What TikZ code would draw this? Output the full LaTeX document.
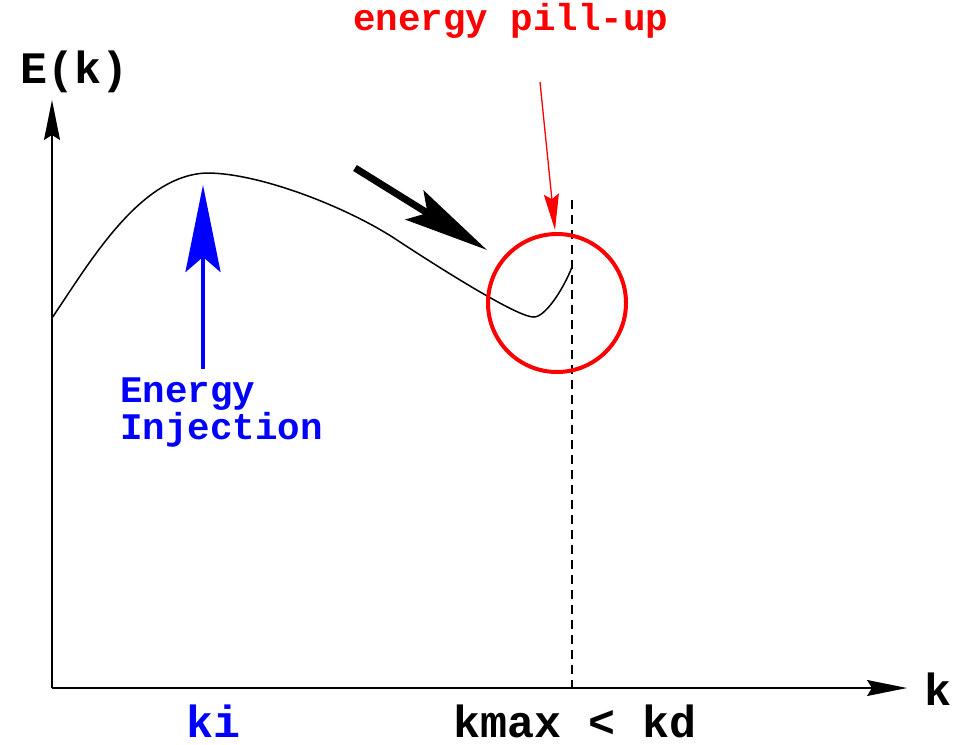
\documentclass[tikz,border=0pt]{standalone}
\usepackage{fontspec}
\setmonofont{Liberation Mono}
\usetikzlibrary{arrows.meta}
\begin{document}
\begin{tikzpicture}[x=1pt,y=-1pt,
  lab/.style={font=\ttfamily\bfseries\fontsize{45}{50}\selectfont, inner sep=0pt},
  ann/.style={font=\ttfamily\bfseries\fontsize{37.5}{33}\selectfont, inner sep=0pt},
  axisline/.style={line width=1.5pt, -{Stealth[length=40pt,width=16pt,inset=5pt]}},
  spectrum/.style={line width=1.5pt, line join=round},
]
\useasboundingbox (0,0) rectangle (971,744);
% axes
\coordinate (origin) at (52,688);
\coordinate (ytop) at (52,100);
\coordinate (xend) at (907,688);
\draw[axisline] (origin) -- (ytop);
\draw[axisline] (origin) -- (xend);
% labels
\node[lab, anchor=base west] (Ek) at (20,83) {E(k)};
\node[lab, anchor=base west] (klab) at (924,705) {k};
\node[lab, anchor=base west, text=blue] (ki) at (186,737) {ki};
\node[lab, anchor=base west] (kmax) at (453,737) {kmax < kd};
% dashed cutoff
\coordinate (dtop) at (572,200);
\coordinate (dbot) at (572,688);
\draw[line width=1.5pt, dash pattern=on 9pt off 6pt] (dtop) -- (dbot);
% spectrum curve
\coordinate (s0) at (52,318);
\coordinate (speak) at (207,173);
\coordinate (sinfl) at (400,242);
\coordinate (smin) at (534,317);
\coordinate (send) at (572,267);
\draw[spectrum] (s0) .. controls (90,262) and (140,175) .. (speak)
  .. controls (260,173) and (350,208) .. (sinfl)
  .. controls (452,276) and (520,318) .. (smin)
  .. controls (545,317) and (563,290) .. (send);
% energy injection
\coordinate (injbot) at (203,369);
\coordinate (injtop) at (203,185);
\draw[blue, line width=4pt, -{Stealth[length=87pt,width=35pt,inset=15pt]}] (injbot) -- (injtop);
\node[ann, anchor=north west, align=left, text=blue] (inj) at (120,378) {Energy\\Injection};
% cascade arrow
\coordinate (casc0) at (355,168);
\coordinate (casc1) at (487,250);
\draw[line width=7pt, -{Stealth[length=85pt,width=34pt,inset=15pt]}] (casc0) -- (casc1);
% pile-up circle
\node[circle, draw=red, line width=4pt, minimum size=138pt, inner sep=0pt] (pile) at (557,303) {};
\node[ann, anchor=base west, text=red] (pilelab) at (353,30) {energy pill-up};
\coordinate (rarr0) at (540,82);
\coordinate (rarr1) at (555,230);
\draw[red, line width=1.3pt, -{Stealth[length=36pt,width=15pt,inset=5pt]}] (rarr0) -- (rarr1);
\end{tikzpicture}
\end{document}
